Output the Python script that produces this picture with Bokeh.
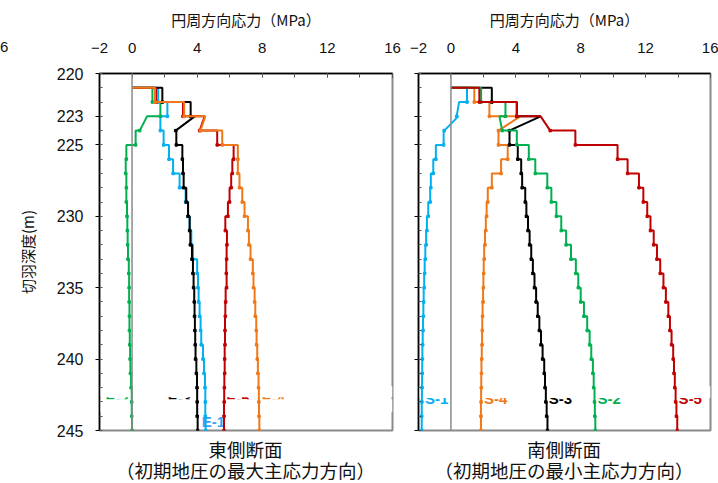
from bokeh.plotting import figure
from bokeh.layouts import row, column, Spacer
from bokeh.models import Range1d, FixedTicker, Span, Div
from bokeh.embed import file_html
from bokeh.resources import INLINE
from bokeh.core.properties import value

# ---------------- data ----------------
# each value is the hoop stress (MPa) over the 1 m interval [d, d+1]
DEPTHS = list(range(221, 245))

X_TICKS = [-2, 0, 4, 8, 12, 16]
X_MINOR = list(range(-2, 17, 2))
Y_TICKS = [220, 223, 225, 230, 235, 240, 245]
Y_MINOR = list(range(220, 246))

# East section
east_e1 = [1.6, 2.17, 1.74, 1.94, 2.27, 2.52, 2.92, 3.29, 3.44, 3.54, 3.64, 3.74,
           4.0, 4.05, 4.09, 4.15, 4.21, 4.25, 4.36, 4.42, 4.48, 4.5, 4.5, 4.52]
east_e2 = [1.25, 1.74, 0.92, 0.22, -0.35, -0.39, -0.35, -0.35, -0.31, -0.29, -0.27, -0.25,
           -0.2, -0.18, -0.18, -0.16, -0.16, -0.14, -0.12, -0.1, -0.06, -0.02, -0.02, 0.0]
east_e3 = [1.86, 3.6, 3.85, 2.72, 3.09, 3.13, 3.17, 3.33, 3.44, 3.54, 3.58, 3.68,
           3.74, 3.78, 3.82, 3.84, 3.86, 3.88, 3.9, 3.95, 3.99, 4.0, 4.0, 4.03]
east_e5 = [1.47, 3.13, 4.46, 5.23, 6.24, 6.16, 6.09, 5.99, 5.89, 5.73, 5.83, 5.81,
           5.79, 5.81, 5.75, 5.73, 5.71, 5.71, 5.69, 5.69, 5.67, 5.66, 5.65, 5.65]
east_e4 = [1.41, 3.2, 4.5, 5.54, 6.5, 6.5, 6.6, 6.77, 6.91, 7.12, 7.18, 7.28,
           7.42, 7.46, 7.53, 7.57, 7.63, 7.65, 7.69, 7.73, 7.77, 7.79, 7.8, 7.82]
# value reached at the bottom of an interval when the trace slants
east_e1_slant = {}
east_e2_slant = {223: 0.47}
east_e3_slant = {223: 2.68}
east_e5_slant = {223: 4.15}
east_e4_slant = {223: 4.2}

# South section
south_s1 = [0.99, 0.5, 0.45, -0.45, -0.93, -1.09, -1.24, -1.28, -1.4, -1.48, -1.53, -1.58,
            -1.62, -1.65, -1.68, -1.7, -1.72, -1.74, -1.76, -1.77, -1.78, -1.79, -1.8, -1.8]
south_s4 = [1.44, 2.37, 4.27, 2.93, 3.5, 3.09, 2.52, 2.27, 2.2, 2.15, 2.1, 2.05,
            2.02, 2.0, 1.98, 1.95, 1.93, 1.92, 1.9, 1.88, 1.87, 1.86, 1.85, 1.85]
south_s3 = [2.52, 4.06, 5.53, 3.61, 4.12, 4.33, 4.39, 4.58, 4.65, 4.75, 4.85, 4.95,
            5.05, 5.15, 5.25, 5.35, 5.45, 5.55, 5.65, 5.75, 5.8, 5.85, 5.9, 5.95]
south_s2 = [1.86, 3.36, 2.99, 4.06, 4.8, 5.2, 5.94, 6.19, 6.5, 6.8, 7.1, 7.4,
            7.7, 7.85, 8.0, 8.2, 8.4, 8.55, 8.65, 8.75, 8.8, 8.85, 8.87, 8.9]
south_s5 = [1.75, 4.06, 5.53, 7.67, 10.27, 10.89, 11.59, 11.86, 12.1, 12.3, 12.5, 12.7,
            12.9, 13.1, 13.25, 13.4, 13.5, 13.6, 13.7, 13.75, 13.8, 13.85, 13.9, 13.95]
south_s1_slant = {222: 0.35, 223: -0.41}
south_s4_slant = {223: 2.93}
south_s3_slant = {223: 3.6}
south_s2_slant = {223: 3.16}
south_s5_slant = {223: 6.12}

RED, ORANGE, BLACK, BLUE, GREEN = "#c00000", "#f07818", "#000000", "#00b0f0", "#00b050"

east_series = [("E-1", east_e1, east_e1_slant, BLUE), ("E-2", east_e2, east_e2_slant, GREEN),
               ("E-3", east_e3, east_e3_slant, BLACK), ("E-5", east_e5, east_e5_slant, RED),
               ("E-4", east_e4, east_e4_slant, ORANGE)]
south_series = [("S-1", south_s1, south_s1_slant, BLUE), ("S-4", south_s4, south_s4_slant, ORANGE),
                ("S-3", south_s3, south_s3_slant, BLACK), ("S-2", south_s2, south_s2_slant, GREEN),
                ("S-5", south_s5, south_s5_slant, RED)]

X_TITLE = "円周方向応力（MPa）"
Y_TITLE = "切羽深度(m)"
EAST_TITLE = ["東側断面", "（初期地圧の最大主応力方向）"]
SOUTH_TITLE = ["南側断面", "（初期地圧の最小主応力方向）"]

LABEL_DEPTH = 242.75
JP = "Noto Sans CJK JP"
LAT = "Liberation Sans"


def step_path(vals, slant):
    xs, ys = [0.0], [DEPTHS[0]]
    mx, my = [], []
    for d, v in zip(DEPTHS, vals):
        xs.append(v); ys.append(d)
        b = slant.get(d, v)
        xs.append(b); ys.append(d + 1)
        mx.append(b); my.append(d + 1)
    return xs, ys, mx, my


def make_fig(width, left_border, right_border, show_ylabels):
    p = figure(width=width, height=441, output_backend="svg", toolbar_location=None,
               x_axis_location="above", x_range=Range1d(-2, 16), y_range=Range1d(245, 220),
               min_border_left=left_border, min_border_right=right_border,
               min_border_top=73, min_border_bottom=11)
    p.background_fill_color = "white"
    p.border_fill_color = "white"
    p.grid.visible = False
    p.outline_line_color = "#8a8a8a"
    p.outline_line_width = 2

    xa = p.xaxis[0]
    xa.ticker = FixedTicker(ticks=X_TICKS, minor_ticks=X_MINOR)
    xa.axis_label = X_TITLE
    xa.axis_label_text_font = JP
    xa.axis_label_text_font_size = "15px"
    xa.axis_label_text_font_style = "normal"
    xa.axis_label_text_color = "#111111"
    xa.axis_label_standoff = 10
    xa.major_label_text_font = LAT
    xa.major_label_text_font_size = "15px"
    xa.major_label_text_color = "#111111"
    xa.major_label_standoff = 21
    xa.major_tick_in = 4
    xa.major_tick_out = 0
    xa.minor_tick_in = 4
    xa.minor_tick_out = 0
    xa.axis_line_width = 1.5
    xa.major_tick_line_color = "#555555"
    xa.minor_tick_line_color = "#555555"

    ya = p.yaxis[0]
    ya.ticker = FixedTicker(ticks=Y_TICKS, minor_ticks=Y_MINOR)
    ya.major_tick_in = 0
    ya.major_tick_out = 4
    ya.minor_tick_in = 3
    ya.minor_tick_out = 0
    ya.axis_line_width = 1.5
    ya.minor_tick_line_color = "#555555"
    if show_ylabels:
        ya.axis_label = Y_TITLE
        ya.axis_label_text_font = JP
        ya.axis_label_text_font_size = "15px"
        ya.axis_label_text_font_style = "normal"
        ya.axis_label_text_color = "#111111"
        ya.axis_label_standoff = 16
        ya.major_label_text_font = LAT
        ya.major_label_text_font_size = "16px"
        ya.major_label_text_color = "#111111"
        ya.major_label_standoff = 12
    else:
        ya.major_label_overrides = {t: "" for t in Y_TICKS}
        ya.major_label_standoff = 0

    p.add_layout(Span(location=0, dimension="height", line_color="#8a8a8a", line_width=1.5))
    return p


def add_label(p, x, text, color, align, offset, y=LABEL_DEPTH):
    p.text(x=[x], y=[y], text=[text], text_color=color, text_align=align,
           text_baseline="middle", x_offset=offset, text_font=value(LAT),
           text_font_size="15px", text_font_style="bold")


def draw_series(p, series):
    for name, vals, slant, color in series:
        xs, ys, mx, my = step_path(vals, slant)
        p.line(xs, ys, line_color=color, line_width=2)
        p.scatter(mx, my, marker="square", size=2.5, color=color)


def caption(lines, width):
    html = ('<div style="width:%dpx;text-align:center;font-family:\'%s\',\'%s\';font-size:18.5px;'
            'line-height:20.75px;color:#111111;padding-top:0px;white-space:nowrap;">%s<br>%s</div>'
            % (width, LAT, JP, lines[0], lines[1]))
    return Div(text=html, width=width, height=42, margin=(0, 0, 0, 0))


# ---------------- east ----------------
pe = make_fig(396, 90, 13, True)
idx = DEPTHS.index(242)
add_label(pe, east_e2[idx], "E-2", GREEN, "right", -3)
add_label(pe, east_e3[idx], "E-3", BLACK, "right", -6)
add_label(pe, east_e5[idx], "E-5", RED, "left", 2)
add_label(pe, east_e4[idx], "E-4", ORANGE, "left", 3)
pe.quad(left=[-2], right=[16], top=[241.9], bottom=[242.68], fill_color="white", line_color=None)
pe.quad(left=[-2], right=[16], top=[242.82], bottom=[243.7], fill_color="white", line_color=None)
add_label(pe, east_e1[-1], "E-1", "#3d9ff5", "left", -4, y=244.37)
draw_series(pe, east_series)

# ---------------- south ----------------
ps = make_fig(313, 13, 8, False)
for name, vals, slant, color in south_series:
    add_label(ps, vals[idx], name, color, "left", 3)
ps.quad(left=[-2], right=[16], top=[241.9], bottom=[242.72], fill_color="white", line_color=None)
draw_series(ps, south_series)

stray = Div(text=('<div style="width:9px;font-family:\'%s\';font-size:15px;line-height:17px;'
                  'color:#111111;padding-top:38px;">6</div>' % LAT),
            width=9, height=441, margin=(0, 0, 0, 0))

top = row(stray, pe, ps, spacing=0)
bottom = row(Spacer(width=99, height=42), caption(EAST_TITLE, 293), Spacer(width=26, height=42),
             caption(SOUTH_TITLE, 292), Spacer(width=8, height=42), spacing=0)
layout = column(top, bottom, spacing=0)
open("out.html", "w").write(file_html(layout, INLINE))
